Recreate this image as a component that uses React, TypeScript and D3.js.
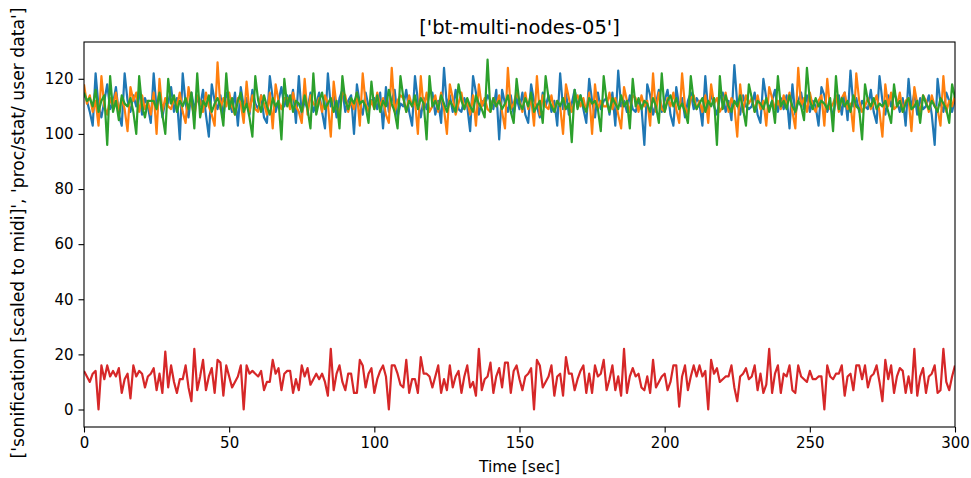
import React, { useRef, useEffect } from 'react';
import * as d3 from 'd3';

// one sample per second, 0..300 sec
const blueSeries = [
  115,112,108,103,122,110,106,112,118,109,
  111,117,107,103,122,112,108,114,110,116,
  107,113,110,104,122,109,115,106,112,111,
  117,108,113,98,122,111,106,115,109,113,
  110,116,107,99,118,112,109,114,106,115,
  112,108,115,103,117,110,113,107,116,111,
  109,114,106,104,121,113,108,112,117,110,
  114,110,116,104,121,107,112,109,115,108,
  111,115,108,102,122,110,114,106,113,116,
  108,112,114,100,118,111,107,115,110,112,
  113,109,115,102,117,108,112,116,106,111,
  110,116,108,103,121,112,106,113,109,115,
  115,107,112,104,124,110,114,108,116,109,
  108,113,110,101,121,115,107,112,110,114,
  112,109,116,98,116,111,108,114,107,113,
  109,115,107,104,118,112,110,106,115,110,
  114,108,112,103,122,109,115,107,111,116,
  110,114,109,104,120,112,106,115,109,112,
  113,107,115,103,123,110,112,108,114,109,
  108,112,110,96,118,114,107,111,116,108,
  112,116,107,103,117,110,113,106,112,115,
  109,113,111,103,121,108,115,110,107,113,
  115,108,112,105,125,111,107,114,110,109,
  110,115,107,104,120,113,109,112,116,108,
  113,109,114,102,118,107,112,115,109,114,
  108,112,110,103,117,114,108,111,106,113,
  114,107,115,105,123,110,113,108,112,110,
  109,116,108,104,121,112,107,114,110,115,
  112,108,113,103,120,109,115,107,113,109,
  110,114,107,96,120,111,108,115,112,108,
  113
];

const orangeSeries = [
  118,111,114,108,112,103,121,110,107,113,
  110,115,108,113,109,101,117,112,115,108,
  114,109,112,107,115,100,120,108,113,110,
  109,113,110,115,108,104,117,111,106,114,
  112,108,115,110,107,103,126,109,113,110,
  115,110,107,113,111,104,119,108,114,109,
  108,114,111,107,115,102,118,112,109,113,
  113,109,115,110,108,104,120,107,114,111,
  110,113,108,114,111,99,119,110,107,115,
  114,108,112,109,115,103,122,111,108,112,
  109,115,110,113,107,104,124,108,112,114,
  113,108,114,110,112,100,121,109,115,108,
  110,114,108,115,109,100,118,113,107,111,
  115,109,112,107,114,103,118,110,113,109,
  108,113,110,114,108,102,124,109,111,115,
  112,108,115,109,113,103,121,107,114,110,
  109,114,108,112,110,100,118,113,108,112,
  114,110,113,108,115,100,118,109,112,110,
  110,115,109,113,107,102,117,112,108,114,
  113,108,114,110,112,103,122,108,115,109,
  108,113,110,115,109,104,122,110,107,113,
  114,109,112,108,114,104,118,111,113,108,
  110,115,108,113,110,99,118,108,114,111,
  113,108,114,109,112,103,117,113,109,112,
  109,114,110,115,108,102,124,110,113,108,
  115,110,108,112,114,103,120,109,111,114,
  108,113,115,109,111,101,122,112,108,110,
  113,109,111,114,108,99,118,110,115,109,
  110,115,108,112,113,101,117,111,108,114,
  112,108,114,110,109,103,121,108,112,110,
  114
];

const greenSeries = [
  115,112,113,110,116,108,112,114,96,121,
  108,112,105,114,111,110,113,108,100,121,
  110,106,112,112,112,109,115,107,100,120,
  111,114,108,112,110,113,109,115,102,122,
  106,112,110,114,108,111,113,110,103,122,
  109,113,107,112,115,108,111,106,99,121,
  112,108,114,110,107,113,110,112,98,120,
  110,114,108,112,111,108,114,109,102,122,
  107,112,115,109,111,113,108,112,102,121,
  112,109,113,111,115,111,112,110,104,119,
  109,114,108,112,110,116,111,108,102,121,
  113,108,112,110,114,109,113,111,98,121,
  110,112,109,114,111,108,112,110,108,118,
  112,109,113,110,108,114,111,109,106,127,
  108,113,110,112,109,111,114,108,104,120,
  111,109,113,110,115,108,110,112,104,121,
  113,110,108,112,110,113,109,111,97,116,
  109,114,110,108,113,111,112,109,101,121,
  112,108,113,111,109,114,110,112,102,120,
  110,113,109,112,111,108,113,110,104,122,
  108,112,114,110,113,109,111,108,104,121,
  112,109,111,113,108,112,110,113,96,121,
  109,114,110,108,112,110,114,109,103,118,
  113,108,112,111,109,113,108,112,104,121,
  110,112,109,114,110,108,112,110,105,124,
  112,109,113,110,112,111,109,113,101,121,
  109,113,110,112,108,114,110,109,98,118,
  112,110,113,109,111,110,112,108,104,118,
  110,112,108,111,113,109,110,112,104,114,
  111,109,112,110,108,113,111,109,104,118,
  113
];

const redSeries = [
  14,12,10,13,14,0,16,11,16,12,
  14,12,15,6,11,13,4,16,12,14,
  13,8,12,13,15,7,13,6,21,8,
  16,10,6,11,11,16,8,3,22,7,
  12,18,7,12,15,6,18,17,5,16,
  12,8,10,12,16,0,16,13,14,13,
  12,14,7,10,10,18,13,15,7,13,
  14,14,6,11,7,16,12,15,9,11,
  13,11,13,10,5,22,7,13,16,10,
  7,13,13,6,6,18,16,8,13,15,
  6,11,14,16,12,0,16,16,13,9,
  8,18,6,11,11,6,19,13,13,12,
  8,12,16,6,11,7,16,8,12,14,
  6,12,16,8,10,5,22,7,11,12,
  17,6,12,15,8,17,17,6,14,16,
  11,7,12,13,15,0,18,16,8,10,
  12,16,5,12,13,5,19,13,13,7,
  11,14,16,6,13,6,16,12,13,18,
  7,11,16,7,12,5,22,6,12,15,
  12,13,8,7,12,6,18,8,10,12,
  13,7,10,16,16,1,12,16,7,12,
  16,12,16,12,14,0,18,13,15,10,
  11,12,12,16,8,3,12,13,15,11,
  12,16,7,13,6,9,22,6,13,16,
  6,13,12,16,7,6,16,12,11,10,
  14,11,11,12,12,0,16,12,11,13,
  13,16,5,12,13,7,16,16,11,16,
  8,12,13,16,10,3,18,11,16,6,
  12,15,14,6,12,6,22,5,12,15,
  6,12,13,16,6,7,22,10,7,12,
  16
];

const seriesList = [blueSeries, orangeSeries, greenSeries, redSeries];
const seriesColors = ['#1f77b4', '#ff7f0e', '#2ca02c', '#d62728'];
const xTicks = [0, 50, 100, 150, 200, 250, 300];
const yTicks = [0, 20, 40, 60, 80, 100, 120];
const titleText = "['bt-multi-nodes-05']";
const xLabel = 'Time [sec]';
const yLabel = "['sonification [scaled to midi]', 'proc/stat/ user data']";

export default function App() {
  const ref = useRef<SVGSVGElement>(null);

  useEffect(() => {
    const width = 971;
    const height = 478;
    const margin = { top: 42, right: 16, bottom: 51, left: 84 };
    const font = "'DejaVu Sans', sans-serif";

    const svg = d3.select(ref.current);
    svg.selectAll('*').remove();

    const x = d3.scaleLinear().domain([0, 300]).range([margin.left, width - margin.right]);
    const y = d3.scaleLinear().domain([-6.35, 133.35]).range([height - margin.bottom, margin.top]);

    svg.append('rect').attr('width', width).attr('height', height).attr('fill', 'white');

    // clip so lines stop at the frame
    svg.append('clipPath').attr('id', 'plot-clip')
      .append('rect')
      .attr('x', margin.left).attr('y', margin.top)
      .attr('width', width - margin.left - margin.right)
      .attr('height', height - margin.top - margin.bottom);

    const line = d3.line<number>()
      .x((d, i) => x(i))
      .y(d => y(d));

    const plot = svg.append('g').attr('clip-path', 'url(#plot-clip)');
    seriesList.forEach((s, k) => {
      plot.append('path')
        .datum(s)
        .attr('d', line)
        .attr('fill', 'none')
        .attr('stroke', seriesColors[k])
        .attr('stroke-width', 2.2)
        .attr('stroke-linejoin', 'round');
    });

    const xAxis = svg.append('g')
      .attr('transform', `translate(0,${height - margin.bottom})`)
      .call(d3.axisBottom(x).tickValues(xTicks).tickSize(5.5).tickPadding(5));
    const yAxis = svg.append('g')
      .attr('transform', `translate(${margin.left},0)`)
      .call(d3.axisLeft(y).tickValues(yTicks).tickSize(5.5).tickPadding(5));

    [xAxis, yAxis].forEach(a => {
      a.select('.domain').remove();
      a.selectAll('line').attr('stroke', '#000').attr('stroke-width', 1.1);
      a.selectAll('text').attr('font-family', font).attr('font-size', 15).attr('fill', '#000');
    });

    svg.append('rect')
      .attr('x', margin.left).attr('y', margin.top)
      .attr('width', width - margin.left - margin.right)
      .attr('height', height - margin.top - margin.bottom)
      .attr('fill', 'none')
      .attr('stroke', '#000')
      .attr('stroke-width', 1.1);

    svg.append('text')
      .attr('x', (margin.left + width - margin.right) / 2)
      .attr('y', 34)
      .attr('text-anchor', 'middle')
      .attr('font-family', font)
      .attr('font-size', 19.5)
      .text(titleText);

    svg.append('text')
      .attr('x', (margin.left + width - margin.right) / 2)
      .attr('y', 472)
      .attr('text-anchor', 'middle')
      .attr('font-family', font)
      .attr('font-size', 15.5)
      .text(xLabel);

    // long label, nearly as tall as the figure
    svg.append('text')
      .attr('transform', `translate(24,233) rotate(-90)`)
      .attr('text-anchor', 'middle')
      .attr('font-family', font)
      .attr('font-size', 17.2)
      .text(yLabel);
  }, []);

  return (
    <svg ref={ref} width={971} height={478}
      style={{ position: 'absolute', left: 0, top: 0 }} />
  );
}
